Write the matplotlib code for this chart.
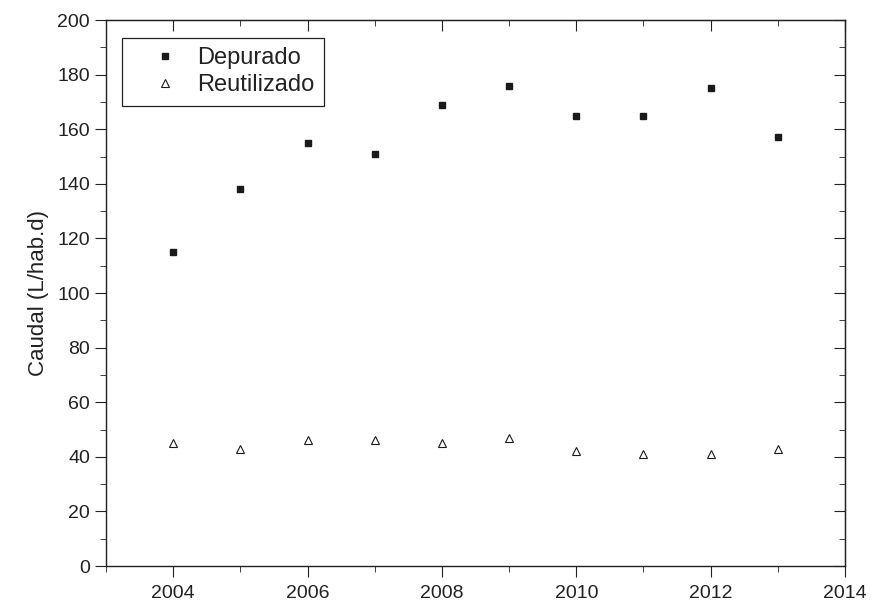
import numpy as np
import matplotlib.pyplot as plt
from matplotlib.ticker import MultipleLocator

plt.rcParams['font.family'] = ['Liberation Sans', 'DejaVu Sans']

anios = [2004, 2005, 2006, 2007, 2008, 2009, 2010, 2011, 2012, 2013]
depurado = [115, 138, 155, 151, 169, 176, 165, 165, 175, 157]
reutilizado = [45, 43, 46, 46, 45, 47, 42, 41, 41, 43]

fig = plt.figure(figsize=(8.71, 6.07), dpi=100)
ax = fig.add_axes([0.1217, 0.0675, 0.8485, 0.8995])

ax.plot(anios, depurado, "s", color="#1a1a1a", markersize=4.5, label="Depurado")
ax.plot(anios, reutilizado, "^", mfc="white", mec="#1a1a1a", mew=0.8,
        markersize=5.5, label="Reutilizado")

ax.set_xlim(2003, 2014)
ax.set_ylim(0, 200)
ax.xaxis.set_major_locator(MultipleLocator(2))
ax.xaxis.set_minor_locator(MultipleLocator(1))
ax.yaxis.set_major_locator(MultipleLocator(20))
ax.yaxis.set_minor_locator(MultipleLocator(10))
ax.tick_params(which="both", direction="out", labelsize=14, top=False, right=False,
               colors="#222222")
ax.tick_params(which="major", length=8)
ax.tick_params(which="minor", length=4)
ax.tick_params(axis="x", pad=6)
ax.set_ylabel("Caudal (L/hab.d)", fontsize=16, color="#222222", labelpad=6)
for s in ax.spines.values():
    s.set_linewidth(1.0)
    s.set_color("#222222")

# ticks hacia dentro arriba y a la derecha
top = ax.secondary_xaxis("top")
top.xaxis.set_major_locator(MultipleLocator(2))
top.xaxis.set_minor_locator(MultipleLocator(1))
top.tick_params(which="both", direction="in", labeltop=False, colors="#222222")
top.tick_params(which="major", length=8)
top.tick_params(which="minor", length=4)
der = ax.secondary_yaxis("right")
der.yaxis.set_major_locator(MultipleLocator(20))
der.yaxis.set_minor_locator(MultipleLocator(10))
der.tick_params(which="both", direction="in", labelright=False, colors="#222222")
der.tick_params(which="major", length=8)
der.tick_params(which="minor", length=4)

leg = ax.legend(loc="upper left", bbox_to_anchor=(0.0217, 0.967), borderaxespad=0,
                fontsize=17, fancybox=False, edgecolor="#222222", framealpha=1,
                handlelength=2.8, handletextpad=0.0, borderpad=0.4,
                labelspacing=0.2)
leg.get_frame().set_linewidth(0.9)
for t in leg.get_texts():
    t.set_color("#222222")

plt.savefig("out.png")
